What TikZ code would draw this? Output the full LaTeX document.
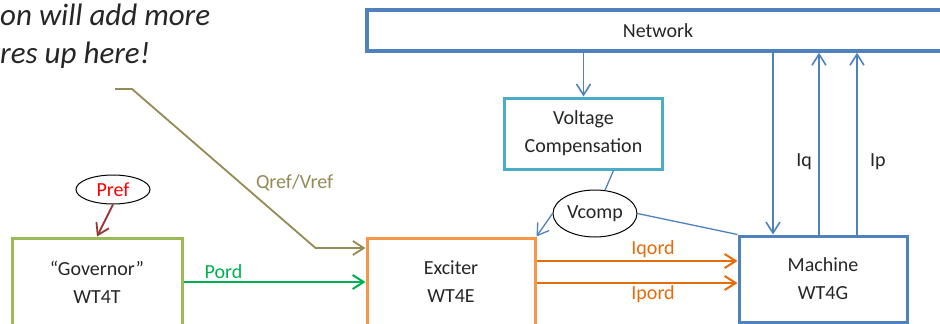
\documentclass[tikz,border=0pt]{standalone}
\usepackage{fontspec}
\setmainfont{Carlito}
\usetikzlibrary{arrows.meta,positioning,shapes.geometric}
\definecolor{netblue}{HTML}{4F81BD}
\definecolor{vcteal}{HTML}{4BACC6}
\definecolor{excorange}{HTML}{F79646}
\definecolor{govgreen}{HTML}{9BBB59}
\definecolor{pordgreen}{HTML}{00B050}
\definecolor{iorange}{HTML}{E46C0A}
\definecolor{prefred}{HTML}{FF0000}
\definecolor{prefdark}{HTML}{953735}
\definecolor{qolive}{HTML}{948A54}
\definecolor{ink}{HTML}{262626}

\begin{document}
\begin{tikzpicture}[
  x=1pt,y=-1pt,
  every node/.style={font=\fontsize{20}{28}\selectfont,text=ink},
  block/.style={draw,line width=3pt,minimum width=168pt,minimum height=88pt,align=center},
  sig/.style={ellipse,draw=black,line width=1pt,inner sep=0pt},
  note/.style={font=\fontsize{31}{38}\selectfont\itshape,anchor=base west,inner sep=0pt},
  arrow/.style={-{Straight Barb[length=11pt,width=14pt]}},
  bluearr/.style={arrow,draw=netblue,line width=1.6pt},
  bluethin/.style={draw=netblue,line width=1.3pt},
  ordarr/.style={arrow,draw=iorange,line width=2pt},
  lbl/.style={inner sep=2pt}
]
  \useasboundingbox (0,0) rectangle (940,324);
  % comment text, cut at the left edge
  \node[note] (note1) at (0,25) {on will add more};
  \node[note] (note2) at (0,63) {res up here!};
  % blocks
  \node[block,draw=netblue,line width=3.5pt,minimum width=582pt,minimum height=41pt] (net) at (658,30.5) {Network};
  \node[block,draw=vcteal,minimum width=158pt,minimum height=71pt] (vc) at (583.5,133.5) {Voltage\\Compensation};
  \node[block,draw=govgreen,minimum width=170pt] (gov) at (97,282) {``Governor''\\WT4T};
  \node[block,draw=excorange] (exc) at (451,282) {Exciter\\WT4E};
  \node[block,draw=netblue,minimum height=86pt] (mach) at (823,279) {Machine\\WT4G};
  % signals
  \node[sig,minimum width=74pt,minimum height=29pt,text=prefred] (pref) at (113,189.5) {Pref};
  \node[sig,minimum width=84pt,minimum height=47pt] (vcomp) at (595,213.5) {Vcomp};
  \coordinate (qsrc) at (115,89);
  % connectors
  \draw[arrow,draw=prefdark,line width=1.8pt] (pref.south) -- (gov.north);
  \draw[arrow,draw=pordgreen,line width=2pt] (gov.east) -- node[lbl,pos=0.22,above,text=pordgreen] {Pord} (exc.west);
  \draw[arrow,draw=qolive,line width=1.8pt] (qsrc) -- ++(17,0)
    -- node[lbl,pos=0.66,anchor=south west,text=qolive] {Qref/Vref} ([xshift=-50pt,yshift=34pt]exc.west)
    -- ([yshift=34pt]exc.west);
  \draw[bluearr] (vc.north |- net.south) -- (vc.north);
  \draw[bluethin] ([xshift=30pt]vc.south) -- (vcomp);
  \draw[bluearr,line width=1.3pt] (vcomp.west) -- (exc.north east);
  \draw[bluethin] (vcomp.east) -- (mach.north west);
  \draw[ordarr] ([yshift=21pt]exc.east) -- node[lbl,pos=0.58,above,text=iorange] {Iqord} ([yshift=21pt]exc.east -| mach.west);
  \draw[ordarr] ([yshift=-1pt]exc.east) -- node[lbl,pos=0.58,below,text=iorange] {Ipord} ([yshift=-1pt]exc.east -| mach.west);
  \draw[bluearr] ([xshift=-50pt]mach.north |- net.south) -- ([xshift=-50pt]mach.north);
  \draw[bluearr] ([xshift=-4pt]mach.north) -- node[pos=0.4,left=3pt] {Iq} ([xshift=-4pt]mach.north |- net.south);
  \draw[bluearr] ([xshift=34pt]mach.north) -- node[pos=0.4,right=9pt] {Ip} ([xshift=34pt]mach.north |- net.south);
\end{tikzpicture}
\end{document}
